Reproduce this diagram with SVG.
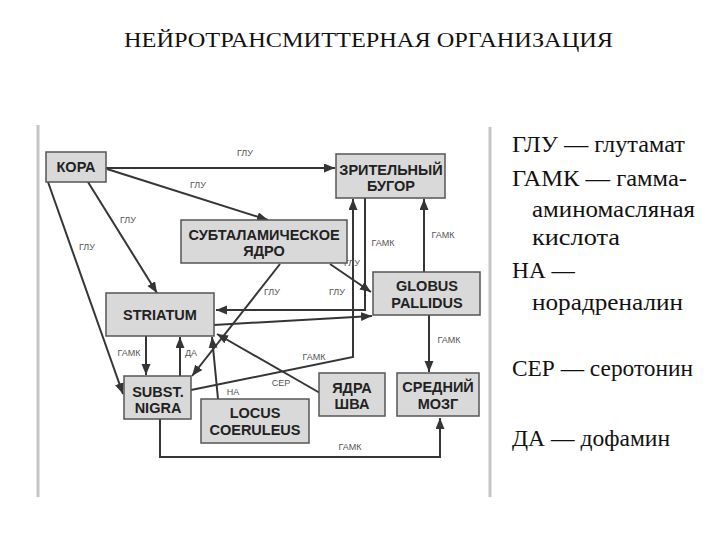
<svg xmlns="http://www.w3.org/2000/svg" width="720" height="540" viewBox="0 0 720 540">
<style>
.bg{fill:#ffffff}
.frame{stroke:#c4c4c4;stroke-width:3;fill:none}
.box{fill:#d9d9d9;stroke:#555555;stroke-width:1.5}
.bt{font-family:"Liberation Sans",Arial,sans-serif;font-weight:bold;font-size:14.5px;fill:#222222;text-anchor:middle}
.ln{stroke:#353535;stroke-width:2;fill:none}
.lb{font-family:"Liberation Sans",Arial,sans-serif;font-size:9px;fill:#555555;text-anchor:middle}
.title{font-family:"Liberation Serif","Times New Roman",serif;font-size:21px;fill:#111111}
.lg{font-family:"Liberation Serif","Times New Roman",serif;font-size:22.5px;fill:#111111}
</style>
<defs>
<marker id="ah" markerUnits="userSpaceOnUse" markerWidth="12" markerHeight="10" refX="11" refY="4.5" orient="auto">
<path d="M0,0 L11,4.5 L0,9 z" fill="#353535"/>
</marker>
</defs>
<rect class="bg" x="0" y="0" width="720" height="540"/>
<text class="title" x="124" y="47" textLength="489" lengthAdjust="spacingAndGlyphs">НЕЙРОТРАНСМИТТЕРНАЯ ОРГАНИЗАЦИЯ</text>

<g id="frame">
<line class="frame" x1="38" y1="125" x2="38" y2="497"/>
<line class="frame" x1="490" y1="127" x2="490" y2="497"/>
</g>

<g id="connectors">
<line class="ln" x1="106" y1="168" x2="335" y2="168" marker-end="url(#ah)"/>
<line class="ln" x1="107" y1="169" x2="268" y2="220" marker-end="url(#ah)"/>
<line class="ln" x1="88" y1="182" x2="157" y2="293" marker-end="url(#ah)"/>
<line class="ln" x1="48" y1="182" x2="123" y2="394" marker-end="url(#ah)"/>
<line class="ln" x1="280" y1="264" x2="192" y2="376" marker-end="url(#ah)"/>
<line class="ln" x1="330" y1="264" x2="371" y2="292" marker-end="url(#ah)"/>
<polyline class="ln" points="365,198 365,310 216,310" marker-end="url(#ah)"/>
<line class="ln" x1="214" y1="325" x2="372" y2="316" marker-end="url(#ah)"/>
<polyline class="ln" points="191,390 353,357 353,199" marker-end="url(#ah)"/>
<line class="ln" x1="424" y1="272" x2="424" y2="199" marker-end="url(#ah)"/>
<line class="ln" x1="429" y1="315" x2="429" y2="372" marker-end="url(#ah)"/>
<line class="ln" x1="146" y1="336" x2="146" y2="375" marker-end="url(#ah)"/>
<line class="ln" x1="180" y1="376" x2="180" y2="337" marker-end="url(#ah)"/>
<line class="ln" x1="218" y1="399" x2="212" y2="337" marker-end="url(#ah)"/>
<line class="ln" x1="320" y1="393" x2="217" y2="334" marker-end="url(#ah)"/>
<polyline class="ln" points="160,419 160,457 440,457 440,418" marker-end="url(#ah)"/>
<text class="lb" x="245" y="156">ГЛУ</text>
<text class="lb" x="198" y="188">ГЛУ</text>
<text class="lb" x="128" y="223">ГЛУ</text>
<text class="lb" x="87" y="250">ГЛУ</text>
<text class="lb" x="272" y="295">ГЛУ</text>
<text class="lb" x="337" y="295">ГЛУ</text>
<text class="lb" x="352" y="266">ГЛУ</text>
<text class="lb" x="383" y="246">ГАМК</text>
<text class="lb" x="443" y="238">ГАМК</text>
<text class="lb" x="449" y="343">ГАМК</text>
<text class="lb" x="314" y="360">ГАМК</text>
<text class="lb" x="129" y="356">ГАМК</text>
<text class="lb" x="191" y="356">ДА</text>
<text class="lb" x="233" y="395">НА</text>
<text class="lb" x="281" y="386">СЕР</text>
<text class="lb" x="350" y="450">ГАМК</text>
</g>

<g id="kora">
<rect class="box" x="46" y="152" width="60" height="30"/>
<text class="bt" x="76" y="172">КОРА</text>
</g>
<g id="thalamus">
<rect class="box" x="336" y="154" width="109" height="44"/>
<text class="bt" x="391" y="175">ЗРИТЕЛЬНЫЙ</text>
<text class="bt" x="391" y="191">БУГОР</text>
</g>
<g id="subthalamic">
<rect class="box" x="181" y="220" width="166" height="43"/>
<text class="bt" x="264" y="240">СУБТАЛАМИЧЕСКОЕ</text>
<text class="bt" x="264" y="256">ЯДРО</text>
</g>
<g id="pallidus">
<rect class="box" x="373" y="272" width="107" height="43"/>
<text class="bt" x="427" y="291">GLOBUS</text>
<text class="bt" x="427" y="308">PALLIDUS</text>
</g>
<g id="striatum">
<rect class="box" x="106" y="293" width="108" height="43"/>
<text class="bt" x="160" y="320">STRIATUM</text>
</g>
<g id="nigra">
<rect class="box" x="124" y="376" width="67" height="43"/>
<text class="bt" x="158" y="397">SUBST.</text>
<text class="bt" x="158" y="413">NIGRA</text>
</g>
<g id="locus">
<rect class="box" x="201" y="399" width="108" height="44"/>
<text class="bt" x="255" y="418">LOCUS</text>
<text class="bt" x="255" y="435">COERULEUS</text>
</g>
<g id="raphe">
<rect class="box" x="319" y="373" width="66" height="43"/>
<text class="bt" x="352" y="393">ЯДРА</text>
<text class="bt" x="352" y="409">ШВА</text>
</g>
<g id="midbrain">
<rect class="box" x="397" y="373" width="82" height="43"/>
<text class="bt" x="438" y="392">СРЕДНИЙ</text>
<text class="bt" x="438" y="409">МОЗГ</text>
</g>

<g id="legend">
<text class="lg" x="512" y="152" textLength="173" lengthAdjust="spacingAndGlyphs">ГЛУ — глутамат</text>
<text class="lg" x="512" y="186" textLength="175" lengthAdjust="spacingAndGlyphs">ГАМК — гамма-</text>
<text class="lg" x="532" y="217" textLength="163" lengthAdjust="spacingAndGlyphs">аминомасляная</text>
<text class="lg" x="532" y="245" textLength="88" lengthAdjust="spacingAndGlyphs">кислота</text>
<text class="lg" x="512" y="278" textLength="63" lengthAdjust="spacingAndGlyphs">НА —</text>
<text class="lg" x="532" y="310" textLength="151" lengthAdjust="spacingAndGlyphs">норадреналин</text>
<text class="lg" x="512" y="376" textLength="181" lengthAdjust="spacingAndGlyphs">СЕР — серотонин</text>
<text class="lg" x="512" y="446" textLength="158" lengthAdjust="spacingAndGlyphs">ДА — дофамин</text>
</g>
</svg>
